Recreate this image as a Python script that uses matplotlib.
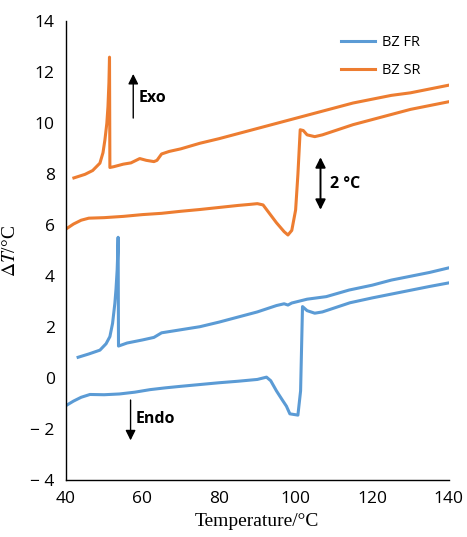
import matplotlib
matplotlib.use("Agg")
import matplotlib.pyplot as plt

plt.rcParams["mathtext.fontset"] = "stix"

# ---- data ----
sr_heat_T = [42.1, 45, 47, 48.9, 49.7, 50.2, 50.7, 51.0, 51.25, 51.4, 51.5, 52.5, 55, 57, 59.3, 61, 63, 63.8,
             65, 67, 70, 75, 80, 85, 90, 95, 100, 105, 110, 115, 120, 125, 130, 135, 140]
sr_heat_dT = [7.86, 8.0, 8.15, 8.44, 8.85, 9.35, 10.0, 10.66, 11.6, 12.6, 8.27, 8.3, 8.4, 8.45, 8.62, 8.55,
              8.5, 8.55, 8.8, 8.9, 9.0, 9.22, 9.4, 9.6, 9.8, 10.0, 10.2, 10.4, 10.6, 10.8, 10.95, 11.1,
              11.2, 11.35, 11.5]

sr_cool_T = [40, 42, 44, 46, 50, 55, 60, 65, 70, 75, 80, 85, 88, 90, 91.5, 93, 95, 97, 98, 99, 100, 100.6,
             101.2, 102, 103, 105, 107, 110, 115, 120, 125, 130, 135, 140]
sr_cool_dT = [5.85, 6.05, 6.2, 6.28, 6.3, 6.35, 6.42, 6.47, 6.55, 6.62, 6.7, 6.78, 6.82, 6.85, 6.8, 6.5, 6.1,
              5.75, 5.62, 5.8, 6.6, 8.0, 9.75, 9.72, 9.55, 9.48, 9.55, 9.7, 9.95, 10.15, 10.35, 10.55, 10.7, 10.85]

fr_heat_T = [43.2, 46, 48.9, 50.5, 51.5, 52.2, 52.8, 53.1, 53.4, 53.55, 53.65, 53.75, 56, 60, 63, 65, 70, 75,
             80, 85, 90, 95, 97, 98, 99, 103, 108, 114, 120, 125, 130, 135, 140]
fr_heat_dT = [0.82, 0.95, 1.1, 1.35, 1.63, 2.15, 2.94, 3.5, 4.25, 4.9, 5.53, 1.26, 1.38, 1.5, 1.6, 1.78, 1.9,
              2.02, 2.2, 2.4, 2.6, 2.85, 2.92, 2.87, 2.95, 3.1, 3.2, 3.46, 3.65, 3.85, 4.0, 4.15, 4.33]

fr_cool_T = [40, 42, 44, 46.3, 50, 54, 58, 62, 66, 70, 75, 80, 85, 90, 92.4, 93.5, 95, 96.5, 97.6, 98.5,
             100.6, 101.3, 101.8, 103, 105, 107, 110, 114.2, 120, 125, 130, 135, 140]
fr_cool_dT = [-1.08, -0.9, -0.75, -0.64, -0.65, -0.62, -0.55, -0.45, -0.38, -0.32, -0.25, -0.18, -0.12,
              -0.05, 0.04, -0.1, -0.5, -0.85, -1.1, -1.4, -1.45, -0.5, 2.81, 2.65, 2.55, 2.6, 2.75, 2.96,
              3.15, 3.3, 3.45, 3.6, 3.74]

x_ticks = [40, 60, 80, 100, 120, 140]
y_ticks = [-4, -2, 0, 2, 4, 6, 8, 10, 12, 14]
y_tick_labels = ["\u2212 4", "\u2212 2", "0", "2", "4", "6", "8", "10", "12", "14"]

BLUE = "#5B9BD5"
ORANGE = "#ED7D31"

fig = plt.figure(figsize=(4.67, 5.37), dpi=100)
ax = fig.add_axes([0.141, 0.106, 0.82, 0.854])

ax.plot(fr_heat_T, fr_heat_dT, color=BLUE, lw=2.2, label="BZ FR")
ax.plot(fr_cool_T, fr_cool_dT, color=BLUE, lw=2.2)
ax.plot(sr_heat_T, sr_heat_dT, color=ORANGE, lw=2.2, label="BZ SR")
ax.plot(sr_cool_T, sr_cool_dT, color=ORANGE, lw=2.2)

ax.set_xlim(40, 140)
ax.set_ylim(-4, 14)
ax.set_xticks(x_ticks)
ax.set_yticks(y_ticks)
ax.set_yticklabels(y_tick_labels)
for s in ["top", "right"]:
    ax.spines[s].set_visible(False)
for s in ["left", "bottom"]:
    ax.spines[s].set_linewidth(1.0)
    ax.spines[s].set_color("black")
ax.tick_params(axis="both", length=0, labelsize=12.5, pad=8)
for lab in ax.get_xticklabels() + ax.get_yticklabels():
    lab.set_fontfamily("Open Sans")

ax.set_xlabel("Temperature/\u00b0C", fontsize=14, family="Liberation Serif", labelpad=4)
ax.set_ylabel("$\\Delta T$/\u00b0C", fontsize=14, family="Liberation Serif", labelpad=8)

# annotations
ax.annotate("", xy=(57.6, 12.05), xytext=(57.6, 10.1),
            arrowprops=dict(arrowstyle="-|>", color="black", lw=1, mutation_scale=15))
ax.text(59.0, 11.0, "Exo", fontsize=11.5, fontweight="bold", family="Open Sans", va="center")
ax.annotate("", xy=(56.9, -2.55), xytext=(56.9, -0.75),
            arrowprops=dict(arrowstyle="-|>", color="black", lw=1, mutation_scale=15))
ax.text(58.3, -1.6, "Endo", fontsize=11.5, fontweight="bold", family="Open Sans", va="center")
ax.annotate("", xy=(106.5, 6.5), xytext=(106.5, 8.78),
            arrowprops=dict(arrowstyle="<|-|>", color="black", lw=1.4, mutation_scale=15))
ax.text(109.0, 7.62, "2 \u00b0C", fontsize=11.5, fontweight="bold", family="Open Sans", va="center")

leg = ax.legend(loc="upper right", bbox_to_anchor=(0.96, 1.0), frameon=False,
                prop={"family": "Open Sans", "size": 10.5}, handlelength=2.3, handletextpad=0.5,
                labelspacing=0.9)

fig.savefig("out.png", dpi=100)
